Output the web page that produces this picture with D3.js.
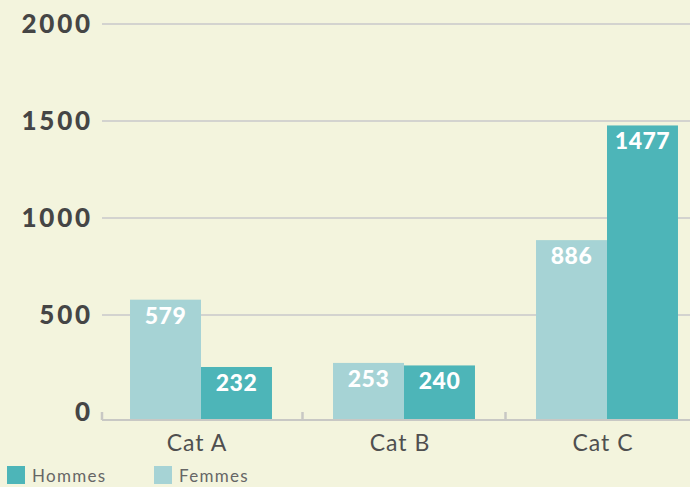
<!DOCTYPE html>
<html>
<head>
<meta charset="utf-8">
<script src="https://cdn.jsdelivr.net/npm/d3@7"></script>
<style>
  html, body { margin: 0; padding: 0; background: #f3f4dd; }
  svg { display: block; font-family: "Lato", "Open Sans", sans-serif; }
</style>
</head>
<body>
<div id="chart"></div>
<script>
"use strict";

// data
const categories = ["Cat A", "Cat B", "Cat C"];
const seriesNames = ["Femmes", "Hommes"];
const femmes = [579, 253, 886];
const hommes = [232, 240, 1477];
const yTicks = [0, 500, 1000, 1500, 2000];
const legendOrder = ["Hommes", "Femmes"];

const colors = { Hommes: "#4db5b8", Femmes: "#a6d3d5" };

const width = 690, height = 487;
const plotLeft = 102, plotBottom = 420;

const svg = d3.select("#chart").append("svg")
  .attr("width", width)
  .attr("height", height);

svg.append("rect").attr("width", width).attr("height", height).attr("fill", "#f3f4dd");

const rows = categories.map((c, i) => ({ cat: c, Femmes: femmes[i], Hommes: hommes[i] }));

const y = d3.scaleLinear().domain([0, 2000]).range([412, 24]);

const x0 = d3.scaleBand().domain(categories).range([99.5, 708.5]).paddingInner(0);
const x1 = d3.scaleBand().domain(seriesNames).range([0, x0.bandwidth()]).paddingInner(0).paddingOuter(0.43);

// grid lines
svg.append("g")
  .selectAll("line")
  .data(yTicks.filter((d) => d > 0))
  .join("line")
  .attr("x1", plotLeft)
  .attr("x2", width)
  .attr("y1", (d) => y(d))
  .attr("y2", (d) => y(d))
  .attr("stroke", "#d3d3cf")
  .attr("stroke-width", 2);

// y labels
svg.append("g")
  .selectAll("text")
  .data(yTicks)
  .join("text")
  .attr("x", 93)
  .attr("y", (d) => y(d))
  .attr("dy", "0.36em")
  .attr("text-anchor", "end")
  .attr("font-size", 26)
  .attr("font-weight", 900)
  .attr("letter-spacing", 2.8)
  .attr("fill", "#454545")
  .text((d) => d);

// bars
const groups = svg.append("g")
  .selectAll("g")
  .data(rows)
  .join("g")
  .attr("transform", (d) => `translate(${x0(d.cat)},0)`);

const cells = groups.selectAll("g")
  .data((d) => seriesNames.map((s) => ({ key: s, value: d[s] })))
  .join("g");

cells.append("rect")
  .attr("x", (d) => x1(d.key))
  .attr("y", (d) => y(d.value))
  .attr("width", x1.bandwidth())
  .attr("height", (d) => plotBottom - y(d.value))
  .attr("fill", (d) => colors[d.key]);

cells.append("text")
  .attr("x", (d) => x1(d.key) + x1.bandwidth() / 2)
  .attr("y", (d) => y(d.value) + 24)
  .attr("text-anchor", "middle")
  .attr("font-size", 23)
  .attr("font-weight", 900)
  .attr("letter-spacing", 0.5)
  .attr("fill", "#ffffff")
  .text((d) => d.value);

// x axis
const xAxis = svg.append("g");
xAxis.append("line")
  .attr("x1", plotLeft)
  .attr("x2", width)
  .attr("y1", plotBottom)
  .attr("y2", plotBottom)
  .attr("stroke", "#c8c8c4")
  .attr("stroke-width", 2);

const tickXs = [plotLeft].concat(categories.slice(1).map((c) => x0(c)));
xAxis.selectAll("line.tick")
  .data(tickXs)
  .join("line")
  .attr("class", "tick")
  .attr("x1", (d) => d)
  .attr("x2", (d) => d)
  .attr("y1", plotBottom - 8)
  .attr("y2", plotBottom)
  .attr("stroke", "#c8c8c4")
  .attr("stroke-width", 2.5);

xAxis.selectAll("text")
  .data(categories)
  .join("text")
  .attr("x", (d) => x0(d) + x0.bandwidth() / 2 - 4)
  .attr("y", 451)
  .attr("text-anchor", "middle")
  .attr("font-size", 23)
  .attr("letter-spacing", 1)
  .attr("fill", "#4f4f4f")
  .text((d) => d);

// legend
const legend = svg.append("g")
  .selectAll("g")
  .data(legendOrder)
  .join("g")
  .attr("transform", (d, i) => `translate(${7 + i * 147},466)`);

legend.append("rect")
  .attr("width", 18)
  .attr("height", 18)
  .attr("fill", (d) => colors[d]);

legend.append("text")
  .attr("x", 25)
  .attr("y", 16)
  .attr("font-size", 17)
  .attr("letter-spacing", 1.3)
  .attr("fill", "#666666")
  .text((d) => d);
</script>
</body>
</html>
